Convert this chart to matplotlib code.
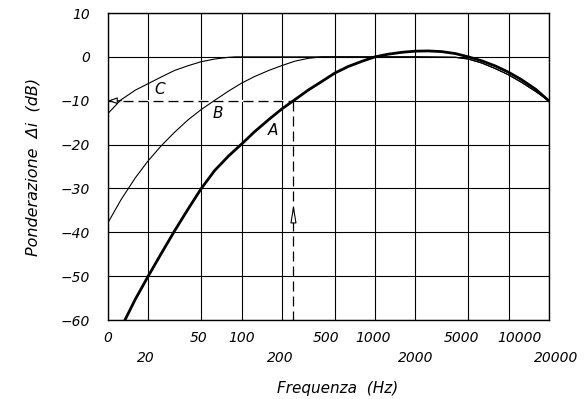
import matplotlib
matplotlib.use('Agg')
import matplotlib.pyplot as plt
from matplotlib.transforms import ScaledTranslation

# Weighting curves (frequency in Hz, level in dB)
a_freq = [13.4, 16, 20, 25, 31.5, 40, 50, 63, 80, 100, 125, 160, 200, 250, 315,
          400, 500, 630, 800, 1000, 1250, 1600, 2000, 2500, 3150, 4000, 5000,
          6300, 8000, 10000, 12500, 16000, 20000]
a_db = [-60, -55.3, -50, -44.9, -39.7, -34.6, -30.0, -25.9, -22.6, -19.9, -17.1, -14.3,
        -11.9, -9.8, -7.6, -5.6, -3.7, -2.2, -1.0, 0, 0.6, 1.05, 1.3, 1.35, 1.2,
        0.75, 0.0, -0.9, -2.1, -3.5, -5.2, -7.4, -10]

b_freq = [10, 12.5, 16, 20, 25, 31.5, 40, 50, 63, 80, 100, 125, 160, 200, 250,
          315, 400, 1000, 2000, 4000, 5000, 6300, 8000, 10000, 12500, 16000, 20000]
b_db = [-37.8, -32.6, -27.6, -23.7, -20.3, -17.2, -14.3, -12.0, -9.9, -7.8, -6.0,
        -4.5, -3.1, -2.0, -1.0, -0.35, 0, 0, 0, -0.1, -0.5, -1.4, -2.7, -4.1, -5.8,
        -7.9, -10]

c_freq = [10, 12.5, 16, 20, 25, 31.5, 40, 50, 63, 80, 90, 400, 1000, 2000,
          4000, 5000, 6300, 8000, 10000, 12500, 16000, 20000]
c_db = [-12.9, -9.8, -7.6, -6.1, -4.6, -3.1, -2.0, -1.1, -0.5, -0.1, 0, 0, 0, 0,
        -0.1, -0.5, -1.4, -2.7, -4.1, -5.8, -7.9, -10]

# Example reading: -10 dB on curve A
ref_freq = 245
ref_db = -10

# Axis ticks
top_ticks = [10, 50, 100, 500, 1000, 5000, 10000]
top_labels = ['0', '50', '100', '500', '1000', '5000', '10000']
bottom_ticks = [20, 200, 2000, 20000]
bottom_labels = ['20', '200', '2000', '20000']
y_ticks = [-60, -50, -40, -30, -20, -10, 0, 10]
# labels in the drawing are nudged sideways a little (pixels)
label_shift = {'20': -2, '50': -2.5, '200': -1, '500': -9, '1000': -2,
               '5000': -7, '10000': 11, '20000': 7}

font = dict(family='DejaVu Sans', style='italic')

fig = plt.figure(figsize=(5.87, 3.99), dpi=100)
ax = fig.add_axes([108 / 587, 1 - 320 / 399, 440.7 / 587, 307 / 399])

ax.set_xscale('log')
ax.set_xlim(10, 20000)
ax.set_ylim(-60, 10)

# Grid and tick labels (two rows on the x axis)
ax.set_xticks(top_ticks, top_labels, **font, fontsize=10)
ax.set_xticks(bottom_ticks, bottom_labels, minor=True, **font, fontsize=10)
ax.set_yticks(y_ticks, [f'{v}'.replace('-', '\u2212') for v in y_ticks], **font, fontsize=10)
ax.grid(True, which='both', color='black', linewidth=0.8)
ax.tick_params(axis='both', which='both', length=0)
ax.tick_params(axis='x', which='major', pad=8)
ax.tick_params(axis='x', which='minor', pad=22.5)
ax.tick_params(axis='y', pad=13)
for s in ax.spines.values():
    s.set_linewidth(1.0)

for lab in ax.get_xticklabels() + ax.get_xticklabels(minor=True):
    dx = label_shift.get(lab.get_text(), 0)
    if dx:
        lab.set_transform(lab.get_transform()
                          + ScaledTranslation(dx / 100, 0, fig.dpi_scale_trans))

# Curves
ax.plot(c_freq, c_db, color='black', linewidth=0.8, zorder=3)
ax.plot(b_freq, b_db, color='black', linewidth=0.8, zorder=3)
ax.plot(a_freq, a_db, color='black', linewidth=2.0, zorder=4)

ax.text(24.5, -7.4, 'C', fontsize=11, ha='center', va='center', **font)
ax.text(67, -13, 'B', fontsize=11, ha='center', va='center', **font)
ax.text(173, -16.9, 'A', fontsize=11, ha='center', va='center', **font)

# Dashed reading lines with arrows (white underlay hides the grid line)
ax.plot([10, ref_freq], [ref_db, ref_db], color='white', linewidth=1.6, zorder=2)
ax.plot([10, ref_freq], [ref_db, ref_db], color='black', linewidth=0.9,
        dashes=(8, 4), zorder=5)
ax.plot([ref_freq, ref_freq], [ref_db, -60], color='black', linewidth=0.9,
        dashes=(8, 4), zorder=5)
ax.annotate('', xy=(10, ref_db), xytext=(12.6, ref_db),
            arrowprops=dict(arrowstyle='-|>,head_length=0.55,head_width=0.2',
                            fc='white', ec='black', lw=0.8, shrinkA=0, shrinkB=0),
            zorder=6)
ax.annotate('', xy=(ref_freq, -33.6), xytext=(ref_freq, -38),
            arrowprops=dict(arrowstyle='-|>,head_length=1.1,head_width=0.18',
                            fc='white', ec='black', lw=0.8, shrinkA=0, shrinkB=0),
            zorder=6)

ax.set_xlabel('Frequenza  (Hz)', fontsize=11, **font)
ax.set_ylabel('Ponderazione  \u0394i  (dB)', fontsize=11.5, **font)
ax.xaxis.set_label_coords(0.522, -0.2)
ax.yaxis.set_label_coords(-0.153, 0.5)

fig.savefig('out.png', dpi=100)
